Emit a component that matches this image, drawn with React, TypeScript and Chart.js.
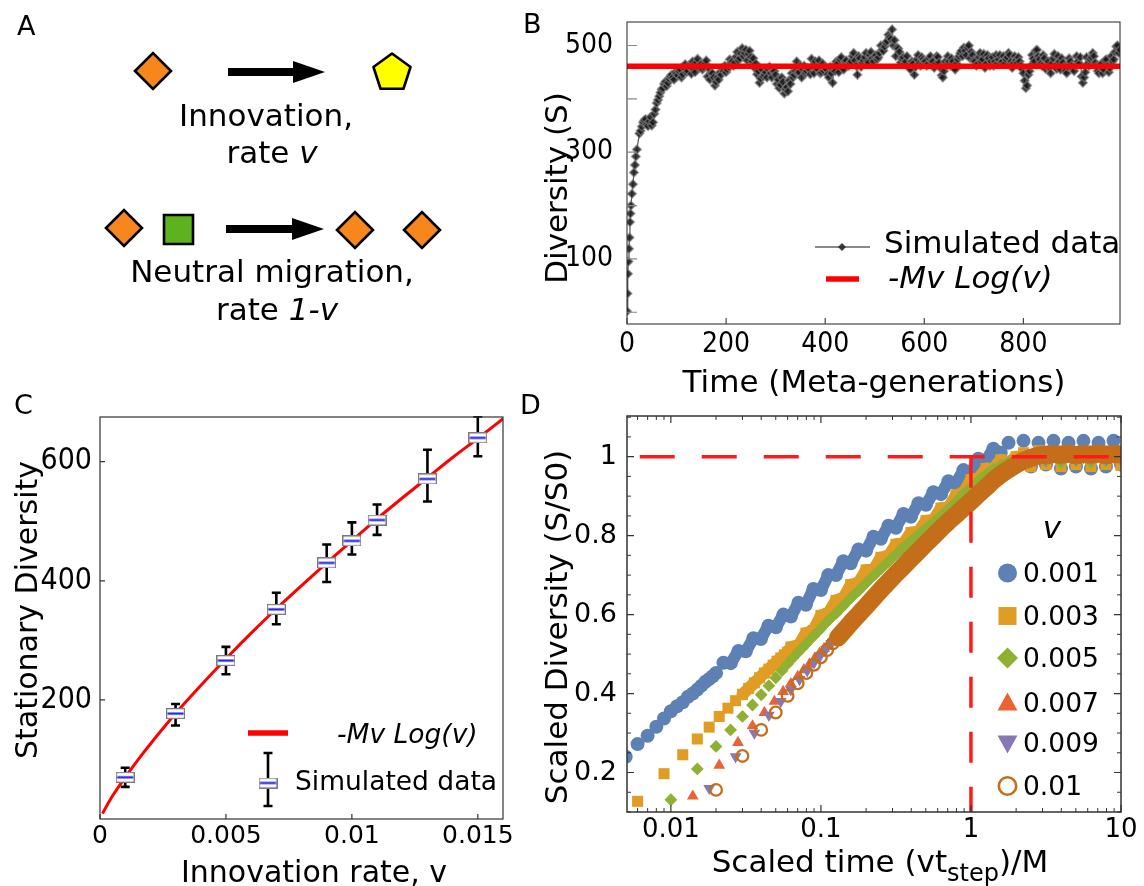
import React, { useEffect, useRef } from 'react';
import { Chart, registerables } from 'chart.js';

Chart.register(...registerables);

const SANS = '"DejaVu Sans", Verdana, sans-serif';
const NARROW = '"Liberation Sans Narrow", "DejaVu Sans Condensed", "Arial Narrow", sans-serif';

// ---------------- Panel A (diagram) ----------------
const aDiamondX = [153, 124, 355, 422];
const aDiamondY = [71, 228, 230, 230];
const aSquareX = [178.5];
const aSquareY = [229.5];
const aPentagonX = [392];
const aPentagonY = [73];
const aArrowFromX = [228, 226];
const aArrowToX = [325, 324];
const aArrowY = [72, 229];

// ---------------- Panel B ----------------
const bEarlyT = [0, 1, 2, 3, 4, 5, 6, 7, 8, 10, 12, 14, 16, 18, 20];
const bEarlyS = [2, 35, 72, 95, 119, 140, 169, 185, 200, 222, 240, 262, 276, 292, 305];
const bSteadyStart = 25;
const bSteadyStep = 5;
const bSteadyS = [
  335, 348, 360, 352, 358, 350, 372, 392, 405, 418, 428, 424, 438, 445, 436, 447,
  452, 440, 458, 450, 462, 447, 455, 468, 458, 466, 460, 472, 458, 448, 440, 432, 436, 445, 452, 450,
  460, 468, 462, 479, 472, 485, 480, 492, 484, 478, 476, 466, 452, 438, 442, 450, 456, 448, 452, 445,
  436, 426, 432, 418, 414, 428, 440, 452, 450, 462, 455, 448, 458, 446, 462, 470, 455, 448, 466, 458,
  446, 460, 430, 452, 466, 474, 458, 470, 462, 468, 480, 472, 445, 476, 468, 478, 470, 482, 476, 480,
  474, 486, 492, 498, 508, 515, 530, 510, 496, 488, 475, 466, 480, 458, 470, 445, 474, 466, 478, 470,
  462, 476, 470, 458, 480, 468, 444, 452, 462, 470, 476, 458, 466, 480, 490, 496, 482, 500, 488, 472,
  462, 478, 470, 484, 466, 476, 470, 462, 482, 474, 468, 480, 474, 486, 470, 466, 472, 478, 462, 448,
  420, 445, 462, 475, 490, 480, 466, 482, 456, 470, 448, 476, 462, 480, 455, 468, 452, 460, 470, 456,
  462, 470, 478, 430, 450, 466, 474, 486, 468, 452, 460, 448, 472, 462, 458, 470, 488, 500, 492,
];
const bMidStart = 27.5;
const bMidS = [
  340, 356, 362, 349, 366, 356, 380, 398, 412, 420, 432, 430, 442, 440, 450,
  444, 455, 446, 465, 452, 460, 470, 450, 475, 462, 455, 466, 442, 436, 448, 425, 440, 450, 458, 462,
  455, 474, 470, 468, 488, 476, 495, 486, 472, 490, 470, 458, 446, 430, 455, 445, 440, 460, 440, 452,
  428, 420, 440, 410, 422, 435, 448, 445, 470, 450, 440, 462, 452, 456, 475, 448, 460, 472, 450, 452,
  455, 440, 448, 462, 470, 450, 478, 455, 472, 462, 470, 486, 462, 480, 460, 472, 486, 468, 488, 470,
  482, 478, 500, 490, 505, 520, 512, 500, 480, 494, 468, 478, 470, 462, 455, 466, 460, 482, 462, 474,
  470, 466, 480, 470, 465, 478, 458, 440, 470, 480, 462, 470, 455, 474, 486, 480, 490, 496, 476, 482,
  470, 466, 486, 474, 458, 482, 462, 478, 470, 466, 482, 470, 466, 478, 482, 458, 480, 468, 470, 456,
  434, 425, 452, 482, 470, 492, 474, 462, 476, 462, 458, 466, 484, 456, 470, 476, 460, 448, 476, 462,
  452, 480, 466, 442, 440, 478, 462, 478, 480, 460, 448, 466, 455, 474, 450, 480, 474, 498, 486,
];
const bFitT = [0, 995];
const bFitS = 461;
const bXLabels = [0, 200, 400, 600, 800];
const bYLabels = [100, 300, 500];
const bYMarks = [0, 100, 200, 300, 400, 500];

// ---------------- Panel C ----------------
const cRates = [0.001, 0.003, 0.005, 0.007, 0.009, 0.010, 0.011, 0.013, 0.015];
const cMean = [70, 177, 266, 352, 430, 467, 502, 571, 640];
const cLow = [54, 157, 243, 327, 398, 444, 477, 533, 609];
const cHigh = [86, 193, 289, 380, 461, 498, 528, 620, 676];
const cCurveV = [0.0001, 0.0002, 0.0005, 0.001, 0.0015, 0.002, 0.003, 0.004, 0.005, 0.006, 0.007, 0.008, 0.009, 0.010, 0.011, 0.012, 0.013, 0.014, 0.015, 0.016];
const cCurveS = [9, 17, 39, 70, 99, 126, 177, 224, 269, 312, 353, 392, 430, 467, 504, 539, 573, 607, 639, 672];
const cXLabels = [0, 0.005, 0.01, 0.015];
const cYLabels = [200, 400, 600];

// ---------------- Panel D ----------------
const dSeriesNames = ['0.001', '0.003', '0.005', '0.007', '0.009', '0.01'];
const dGridX = [0.0224, 0.0251, 0.0282, 0.0316, 0.0355, 0.0398, 0.0447, 0.0501, 0.0562, 0.0631, 0.0708, 0.0794, 0.0891, 0.1, 0.112, 0.126, 0.141, 0.158, 0.178, 0.2, 0.224, 0.251, 0.282, 0.316, 0.355, 0.398, 0.447, 0.501, 0.562, 0.631, 0.708, 0.794, 0.891, 1, 1.12, 1.26, 1.41, 1.58, 1.78, 2, 2.24, 2.51, 2.82, 3.16, 3.55, 3.98, 4.47, 5.01, 5.62, 6.31, 7.08, 7.94, 8.91, 10];

const dBlueEarlyX = [0.005, 0.006, 0.007, 0.008, 0.009, 0.010, 0.011, 0.012, 0.013, 0.014, 0.015, 0.016, 0.017, 0.018, 0.019, 0.020];
const dBlueEarlyY = [0.24, 0.272, 0.293, 0.316, 0.337, 0.355, 0.368, 0.378, 0.392, 0.40, 0.41, 0.42, 0.43, 0.437, 0.444, 0.452];
const dBlueTailFrom = 0;
const dBlueTail = [0.478, 0.477, 0.508, 0.507, 0.54, 0.538, 0.572, 0.568, 0.6, 0.595, 0.63, 0.625, 0.665, 0.662, 0.70, 0.70, 0.735, 0.73, 0.765, 0.762, 0.797, 0.792, 0.825, 0.82, 0.855, 0.848, 0.882, 0.878, 0.91, 0.905, 0.938, 0.932, 0.966, 0.958, 0.995, 0.99, 1.02, 1.01, 1.035, 0.99, 1.04, 0.975, 1.035, 0.98, 1.04, 0.97, 1.035, 0.975, 1.04, 0.97, 1.035, 0.975, 1.04, 0.98];

const dOrangeEarlyX = [0.006, 0.009, 0.012, 0.015, 0.018, 0.021, 0.024, 0.027, 0.030, 0.033, 0.036, 0.039, 0.042, 0.045, 0.048, 0.051, 0.054, 0.057, 0.060];
const dOrangeEarlyY = [0.127, 0.197, 0.245, 0.285, 0.315, 0.342, 0.363, 0.382, 0.398, 0.413, 0.427, 0.44, 0.452, 0.462, 0.472, 0.482, 0.49, 0.498, 0.505];
const dOrangeTailFrom = 9;
const dOrangeTail = [0.518, 0.521, 0.553, 0.56, 0.598, 0.603, 0.636, 0.641, 0.676, 0.68, 0.713, 0.713, 0.745, 0.748, 0.778, 0.78, 0.808, 0.809, 0.838, 0.839, 0.87, 0.871, 0.903, 0.908, 0.942, 0.944, 0.97, 0.969, 0.992, 0.985, 1.0, 1.01, 0.975, 1.015, 0.98, 1.01, 0.975, 1.015, 0.98, 1.01, 0.975, 1.015, 0.98, 1.01, 0.978];

const dGreenEarlyX = [0.010, 0.015, 0.020, 0.025, 0.030, 0.035, 0.040, 0.045, 0.050, 0.055, 0.060, 0.065, 0.070, 0.075, 0.080, 0.085, 0.090, 0.095, 0.100];
const dGreenEarlyY = [0.131, 0.209, 0.266, 0.308, 0.342, 0.371, 0.397, 0.42, 0.44, 0.458, 0.475, 0.49, 0.503, 0.515, 0.526, 0.537, 0.547, 0.556, 0.565];
const dGreenTailFrom = 14;
const dGreenTail = [0.585, 0.603, 0.622, 0.642, 0.66, 0.68, 0.698, 0.716, 0.734, 0.752, 0.77, 0.787, 0.803, 0.818, 0.834, 0.85, 0.867, 0.885, 0.905, 0.922, 0.94, 0.955, 0.968, 0.978, 0.986, 0.99, 0.993, 0.985, 1.0, 0.988, 0.998, 0.985, 1.0, 0.99, 0.997, 0.985, 1.0, 0.988, 0.998, 0.99];

const dRedEarlyX = [0.014, 0.021, 0.028, 0.035, 0.042, 0.049, 0.056, 0.063, 0.070, 0.077, 0.084, 0.091, 0.098, 0.105, 0.112, 0.119, 0.126, 0.133, 0.140];
const dRedEarlyY = [0.14, 0.218, 0.276, 0.318, 0.352, 0.38, 0.405, 0.425, 0.443, 0.46, 0.475, 0.489, 0.502, 0.514, 0.525, 0.535, 0.545, 0.554, 0.563];
const dRedTailFrom = 17;
const dRedTail = [0.583, 0.605, 0.627, 0.648, 0.668, 0.688, 0.707, 0.727, 0.747, 0.766, 0.785, 0.803, 0.822, 0.84, 0.858, 0.875, 0.89, 0.91, 0.928, 0.945, 0.96, 0.972, 0.98, 0.988, 0.993, 0.998, 0.99, 1.0, 0.992, 1.0, 0.99, 1.002, 0.992, 1.0, 0.99, 1.0, 0.993];

const dPurpleEarlyX = [0.018, 0.027, 0.036, 0.045, 0.054, 0.063, 0.072, 0.081, 0.090, 0.099, 0.108, 0.117, 0.126, 0.135, 0.144, 0.153, 0.162, 0.171, 0.180];
const dPurpleEarlyY = [0.16, 0.24, 0.30, 0.345, 0.38, 0.41, 0.436, 0.458, 0.478, 0.496, 0.512, 0.527, 0.54, 0.552, 0.563, 0.574, 0.584, 0.593, 0.602];
const dPurpleTailFrom = 19;
const dPurpleTail = [0.625, 0.647, 0.667, 0.687, 0.706, 0.725, 0.745, 0.764, 0.783, 0.802, 0.82, 0.838, 0.856, 0.874, 0.892, 0.912, 0.93, 0.947, 0.962, 0.974, 0.983, 0.99, 0.995, 1.0, 0.993, 1.003, 0.995, 1.002, 0.993, 1.0, 0.995, 1.003, 0.994, 1.0, 0.996];

const dBrownEarlyX = [0.02, 0.03, 0.04, 0.05, 0.06, 0.07, 0.08, 0.09, 0.10, 0.11, 0.12, 0.13, 0.14, 0.15, 0.16, 0.17, 0.18, 0.19, 0.20];
const dBrownEarlyY = [0.156, 0.242, 0.308, 0.352, 0.394, 0.426, 0.452, 0.473, 0.492, 0.51, 0.527, 0.542, 0.556, 0.569, 0.581, 0.592, 0.602, 0.612, 0.621];
const dBrownTailFrom = 20;
const dBrownTail = [0.642, 0.663, 0.683, 0.703, 0.722, 0.742, 0.761, 0.78, 0.799, 0.818, 0.836, 0.853, 0.87, 0.887, 0.905, 0.922, 0.94, 0.955, 0.968, 0.98, 0.99, 0.997, 1.003, 1.005, 1.007, 1.005, 1.008, 1.004, 1.007, 1.005, 1.008, 1.005, 1.007, 1.006];

const dRefLevel = 1;
const dRefHX = [0.0062, 10];
const dRefVX = 1;
const dRefVY = [1, 0.1];
const dXLabels = [0.01, 0.1, 1, 10];
const dYLabels = [0.2, 0.4, 0.6, 0.8, 1];
const dXMinor = [0.006, 0.007, 0.008, 0.009, 0.02, 0.03, 0.04, 0.05, 0.06, 0.07, 0.08, 0.09, 0.2, 0.3, 0.4, 0.5, 0.6, 0.7, 0.8, 0.9, 2, 3, 4, 5, 6, 7, 8, 9];
const dYMinor = [0.1, 0.15, 0.25, 0.3, 0.35, 0.45, 0.5, 0.55, 0.65, 0.7, 0.75, 0.85, 0.9, 0.95, 1.05, 1.1];

const COLORS = {
  blue: '#5e81b5',
  orange: '#e19c24',
  green: '#8fb032',
  red: '#eb6235',
  purple: '#8778b3',
  brown: '#c56e1a',
};

// ---------------- helpers ----------------
type Seg = { t: string; it?: boolean; sub?: boolean };

function drawRich(ctx: CanvasRenderingContext2D, segs: Seg[], x: number, y: number, size: number, align = 'left', rot = 0, color = '#000') {
  ctx.save();
  ctx.translate(x, y);
  if (rot) ctx.rotate(rot);
  ctx.fillStyle = color;
  ctx.textBaseline = 'alphabetic';
  ctx.textAlign = 'left';
  const fonts = segs.map((s) => `${s.it ? 'italic ' : ''}${s.sub ? Math.round(size * 0.78) : size}px ${SANS}`);
  const widths = segs.map((s, i) => {
    ctx.font = fonts[i];
    return ctx.measureText(s.t).width;
  });
  const total = widths.reduce((a, b) => a + b, 0);
  let cx = align === 'center' ? -total / 2 : align === 'right' ? -total : 0;
  segs.forEach((s, i) => {
    ctx.font = fonts[i];
    ctx.fillText(s.t, cx, s.sub ? size * 0.28 : 0);
    cx += widths[i];
  });
  ctx.restore();
}

function innerTicks(chart: any, axis: string, values: number[], len: number, sides: string[], color: string, lw: number) {
  const ctx = chart.ctx;
  const a = chart.chartArea;
  const s = chart.scales[axis];
  ctx.save();
  ctx.strokeStyle = color;
  ctx.lineWidth = lw;
  ctx.beginPath();
  values.forEach((v) => {
    const p = s.getPixelForValue(v);
    if (axis === 'x') {
      if (p < a.left - 0.5 || p > a.right + 0.5) return;
      if (sides.includes('bottom')) { ctx.moveTo(p, a.bottom); ctx.lineTo(p, a.bottom - len); }
      if (sides.includes('top')) { ctx.moveTo(p, a.top); ctx.lineTo(p, a.top + len); }
    } else {
      if (p < a.top - 0.5 || p > a.bottom + 0.5) return;
      if (sides.includes('left')) { ctx.moveTo(a.left, p); ctx.lineTo(a.left + len, p); }
      if (sides.includes('right')) { ctx.moveTo(a.right, p); ctx.lineTo(a.right - len, p); }
    }
  });
  ctx.stroke();
  ctx.restore();
}

function frame(chart: any, color: string, lw: number) {
  const ctx = chart.ctx;
  const a = chart.chartArea;
  ctx.save();
  ctx.strokeStyle = color;
  ctx.lineWidth = lw;
  ctx.strokeRect(a.left, a.top, a.right - a.left, a.bottom - a.top);
  ctx.restore();
}

function marker(ctx: CanvasRenderingContext2D, kind: string, x: number, y: number, r: number, color: string) {
  ctx.save();
  ctx.fillStyle = color;
  ctx.strokeStyle = color;
  ctx.beginPath();
  if (kind === 'circle') {
    ctx.arc(x, y, r, 0, Math.PI * 2);
    ctx.fill();
  } else if (kind === 'square') {
    ctx.rect(x - r, y - r, 2 * r, 2 * r);
    ctx.fill();
  } else if (kind === 'diamond') {
    ctx.moveTo(x, y - r); ctx.lineTo(x + r, y); ctx.lineTo(x, y + r); ctx.lineTo(x - r, y); ctx.closePath();
    ctx.fill();
  } else if (kind === 'tri') {
    ctx.moveTo(x, y - r); ctx.lineTo(x + r * 0.95, y + r * 0.72); ctx.lineTo(x - r * 0.95, y + r * 0.72); ctx.closePath();
    ctx.fill();
  } else if (kind === 'tridown') {
    ctx.moveTo(x, y + r); ctx.lineTo(x + r * 0.95, y - r * 0.72); ctx.lineTo(x - r * 0.95, y - r * 0.72); ctx.closePath();
    ctx.fill();
  } else if (kind === 'ring') {
    ctx.lineWidth = 2.6;
    ctx.arc(x, y, r - 1.3, 0, Math.PI * 2);
    ctx.stroke();
  }
  ctx.restore();
}

const hiddenPlugins = { legend: { display: false }, tooltip: { enabled: false } };

// fix the size of an axis box and drop Chart.js' extra label padding
const fixWidth = (w: number) => (s: any) => {
  s.width = w;
  s.paddingTop = 0; s.paddingBottom = 0; s.paddingLeft = 0; s.paddingRight = 0;
};
const fixHeight = (h: number) => (s: any) => {
  s.height = h;
  s.paddingTop = 0; s.paddingBottom = 0; s.paddingLeft = 0; s.paddingRight = 0;
};

// ---------------- charts ----------------
function makeA(canvas: HTMLCanvasElement) {
  const pent = document.createElement('canvas');
  pent.width = 46;
  pent.height = 46;
  const p = pent.getContext('2d')!;
  p.beginPath();
  for (let k = 0; k < 5; k++) {
    const ang = -Math.PI / 2 + (k * 2 * Math.PI) / 5;
    const px = 23 + 19.5 * Math.cos(ang);
    const py = 23 + 19.5 * Math.sin(ang);
    if (k === 0) p.moveTo(px, py); else p.lineTo(px, py);
  }
  p.closePath();
  p.fillStyle = '#ffff00';
  p.fill();
  p.lineWidth = 2.6;
  p.lineJoin = 'round';
  p.strokeStyle = '#000';
  p.stroke();

  const decor = {
    id: 'aDecor',
    afterDatasetsDraw(chart: any) {
      const ctx = chart.ctx;
      const xs = chart.scales.x;
      const ys = chart.scales.y;
      ctx.save();
      ctx.fillStyle = '#000';
      for (let i = 0; i < aArrowY.length; i++) {
        const x0 = xs.getPixelForValue(aArrowFromX[i]);
        const x1 = xs.getPixelForValue(aArrowToX[i]);
        const y = ys.getPixelForValue(aArrowY[i]);
        const head = 32, half = 11, shaft = 4;
        ctx.beginPath();
        ctx.moveTo(x0, y - shaft);
        ctx.lineTo(x1 - head, y - shaft);
        ctx.lineTo(x1 - head, y - half);
        ctx.lineTo(x1, y);
        ctx.lineTo(x1 - head, y + half);
        ctx.lineTo(x1 - head, y + shaft);
        ctx.lineTo(x0, y + shaft);
        ctx.closePath();
        ctx.fill();
      }
      ctx.restore();
      drawRich(ctx, [{ t: 'Innovation,' }], 266, 126, 31, 'center');
      drawRich(ctx, [{ t: 'rate ' }, { t: 'v', it: true }], 272, 163, 31, 'center');
      drawRich(ctx, [{ t: 'Neutral migration,' }], 272, 282, 31, 'center');
      drawRich(ctx, [{ t: 'rate ' }, { t: '1-v', it: true }], 277, 320, 31, 'center');
    },
  };

  return new Chart(canvas, {
    type: 'scatter',
    data: {
      datasets: [
        {
          data: aDiamondX.map((x, i) => ({ x, y: aDiamondY[i] })),
          pointStyle: 'rectRot', pointRadius: 18, pointBackgroundColor: '#f7861c',
          pointBorderColor: '#000', pointBorderWidth: 2.6,
        },
        {
          data: aSquareX.map((x, i) => ({ x, y: aSquareY[i] })),
          pointStyle: 'rect', pointRadius: 20.5, pointBackgroundColor: '#5db31f',
          pointBorderColor: '#000', pointBorderWidth: 2.6,
        },
        {
          data: aPentagonX.map((x, i) => ({ x, y: aPentagonY[i] })),
          pointStyle: pent as any, pointRadius: 20,
        },
      ],
    },
    options: {
      responsive: false, animation: false, events: [],
      layout: { padding: 0, autoPadding: false },
      plugins: hiddenPlugins as any,
      scales: {
        x: { display: false, min: 0, max: 520 },
        y: { display: false, min: 0, max: 400, reverse: true },
      },
    },
    plugins: [decor],
  } as any);
}

function makeB(canvas: HTMLCanvasElement) {
  const pts = [
    ...bEarlyT.map((t, i) => ({ x: t, y: bEarlyS[i] })),
    ...bSteadyS.map((s, i) => ({ x: bSteadyStart + i * bSteadyStep, y: s })),
    ...bMidS.map((s, i) => ({ x: bMidStart + i * bSteadyStep, y: s })),
  ].sort((p, q) => p.x - q.x);
  const decor = {
    id: 'bDecor',
    afterDatasetsDraw(chart: any) {
      const ctx = chart.ctx;
      frame(chart, '#222', 1);
      innerTicks(chart, 'y', bYMarks, 10, ['left'], '#888', 1.2);
      innerTicks(chart, 'x', bXLabels, 6, ['bottom'], '#444', 1.2);
      // legend
      ctx.save();
      ctx.strokeStyle = 'rgba(80,80,80,0.9)';
      ctx.lineWidth = 1.5;
      ctx.beginPath(); ctx.moveTo(295, 247); ctx.lineTo(350, 247); ctx.stroke();
      marker(ctx, 'diamond', 322, 247, 4, 'rgba(40,40,40,0.9)');
      ctx.strokeStyle = '#ff0000';
      ctx.lineWidth = 5.5;
      ctx.beginPath(); ctx.moveTo(306, 279); ctx.lineTo(339, 279); ctx.stroke();
      ctx.restore();
      drawRich(ctx, [{ t: 'Simulated data' }], 364, 253, 31);
      drawRich(ctx, [{ t: '-Mv Log(v)', it: true }], 368, 288, 31);
      // titles
      drawRich(ctx, [{ t: 'Time (Meta-generations)' }], 354, 392, 31, 'center');
      drawRich(ctx, [{ t: 'Diversity (S)' }], 47, 188, 31, 'center', -Math.PI / 2);
    },
  };
  return new Chart(canvas, {
    type: 'scatter',
    data: {
      datasets: [
        {
          data: bFitT.map((t) => ({ x: t, y: bFitS })),
          showLine: true, borderColor: '#ff0000', borderWidth: 5.5, pointRadius: 0, order: 0,
        },
        {
          data: pts, showLine: true, borderColor: 'rgba(60,60,60,0.9)', borderWidth: 1.2,
          pointStyle: 'rectRot', pointRadius: 4.4, pointBackgroundColor: 'rgba(25,25,25,0.85)',
          pointBorderColor: 'rgba(130,130,130,0.6)', pointBorderWidth: 1.5, order: 1,
        },
      ],
    },
    options: {
      responsive: false, animation: false, events: [],
      layout: { padding: { left: 0, right: 24, top: 22, bottom: 0 }, autoPadding: false },
      plugins: hiddenPlugins as any,
      scales: {
        x: {
          type: 'linear', min: 0, max: 995,
          afterBuildTicks: (s: any) => { s.ticks = bXLabels.map((v) => ({ value: v })); },
          afterFit: fixHeight(76),
          grid: { display: false, drawTicks: false }, border: { display: false },
          ticks: { autoSkip: false, maxRotation: 0, padding: 4, color: '#000', font: { family: NARROW, size: 28 }, callback: (v: any) => String(v) },
        },
        y: {
          type: 'linear', min: -22, max: 544,
          afterBuildTicks: (s: any) => { s.ticks = bYLabels.map((v) => ({ value: v })); },
          afterFit: fixWidth(107),
          grid: { display: false, drawTicks: false }, border: { display: false },
          ticks: { autoSkip: false, padding: 14, color: '#000', font: { family: NARROW, size: 28 }, callback: (v: any) => String(v) },
        },
      },
    },
    plugins: [decor],
  } as any);
}

function makeBoxImage() {
  const c = document.createElement('canvas');
  c.width = 19;
  c.height = 11;
  const g = c.getContext('2d')!;
  g.fillStyle = '#fff';
  g.fillRect(0, 0, 19, 11);
  g.strokeStyle = '#7a7a7a';
  g.lineWidth = 1.2;
  g.strokeRect(0.6, 0.6, 17.8, 9.8);
  g.strokeStyle = '#1f1fe6';
  g.lineWidth = 2.2;
  g.beginPath(); g.moveTo(1.5, 5.5); g.lineTo(17.5, 5.5); g.stroke();
  return c;
}

function makeC(canvas: HTMLCanvasElement) {
  const box = makeBoxImage();
  const whisker = (ctx: any, x: number, y0: number, y1: number) => {
    ctx.beginPath();
    ctx.moveTo(x, y0); ctx.lineTo(x, y1);
    ctx.moveTo(x - 4.5, y0); ctx.lineTo(x + 4.5, y0);
    ctx.moveTo(x - 4.5, y1); ctx.lineTo(x + 4.5, y1);
    ctx.stroke();
  };
  const decor = {
    id: 'cDecor',
    beforeDatasetsDraw(chart: any) {
      const ctx = chart.ctx;
      const a = chart.chartArea;
      const xs = chart.scales.x;
      const ys = chart.scales.y;
      ctx.save();
      ctx.beginPath();
      ctx.rect(a.left, a.top - 1, a.right - a.left, a.bottom - a.top + 2);
      ctx.clip();
      ctx.strokeStyle = '#000';
      ctx.lineWidth = 2.6;
      cRates.forEach((v, i) => {
        whisker(ctx, xs.getPixelForValue(v), ys.getPixelForValue(cHigh[i]), ys.getPixelForValue(cLow[i]));
      });
      ctx.restore();
    },
    afterDatasetsDraw(chart: any) {
      const ctx = chart.ctx;
      frame(chart, '#333', 1.2);
      innerTicks(chart, 'y', cYLabels, 5, ['left'], '#333', 1.2);
      innerTicks(chart, 'x', cXLabels, 5, ['bottom'], '#333', 1.2);
      ctx.save();
      ctx.strokeStyle = '#ff0000';
      ctx.lineWidth = 5.5;
      ctx.beginPath(); ctx.moveTo(248, 333); ctx.lineTo(288, 333); ctx.stroke();
      ctx.strokeStyle = '#000';
      ctx.lineWidth = 2.6;
      whisker(ctx, 268, 353, 406);
      ctx.drawImage(box, 268 - 9.5, 383 - 5.5);
      ctx.restore();
      drawRich(ctx, [{ t: '-Mv Log(v)', it: true }], 337, 343, 26.5);
      drawRich(ctx, [{ t: 'Simulated data' }], 295, 390, 26.5);
      drawRich(ctx, [{ t: 'Innovation rate, v' }], 314, 482, 30, 'center');
      drawRich(ctx, [{ t: 'Stationary Diversity' }], 37, 210, 30, 'center', -Math.PI / 2);
    },
  };
  return new Chart(canvas, {
    type: 'scatter',
    data: {
      datasets: [
        {
          data: cCurveV.map((v, i) => ({ x: v, y: cCurveS[i] })),
          showLine: true, borderColor: '#ff0000', borderWidth: 3, pointRadius: 0,
          cubicInterpolationMode: 'monotone', order: 1,
        },
        {
          data: cRates.map((v, i) => ({ x: v, y: cMean[i] })),
          pointStyle: box as any, pointRadius: 9, order: 0,
        },
      ],
    },
    options: {
      responsive: false, animation: false, events: [],
      layout: { padding: { left: 0, right: 17, top: 17, bottom: 0 }, autoPadding: false },
      plugins: hiddenPlugins as any,
      scales: {
        x: {
          type: 'linear', min: 0, max: 0.016,
          afterBuildTicks: (s: any) => { s.ticks = cXLabels.map((v) => ({ value: v })); },
          afterFit: fixHeight(67),
          grid: { display: false, drawTicks: false }, border: { display: false },
          ticks: { autoSkip: false, maxRotation: 0, padding: 2, color: '#000', font: { family: SANS, size: 25 }, callback: (v: any) => String(v) },
        },
        y: {
          type: 'linear', min: 0, max: 675,
          afterBuildTicks: (s: any) => { s.ticks = cYLabels.map((v) => ({ value: v })); },
          afterFit: fixWidth(100),
          grid: { display: false, drawTicks: false }, border: { display: false },
          ticks: { autoSkip: false, padding: 8, color: '#000', font: { family: NARROW, size: 30 }, callback: (v: any) => String(v) },
        },
      },
    },
    plugins: [decor],
  } as any);
}

function dPoints(ex: number[], ey: number[], from: number, tail: number[]) {
  const pts = ex.map((x, i) => ({ x, y: ey[i] }));
  tail.forEach((y, i) => pts.push({ x: dGridX[from + i], y }));
  return pts;
}

function makeD(canvas: HTMLCanvasElement) {
  const band = (color: string, start: number, end: number) => (ctx: any) =>
    ctx.p0.parsed.x >= start && ctx.p1.parsed.x <= end ? color : 'rgba(0,0,0,0)';
  const series = [
    { name: dSeriesNames[0], pts: dPoints(dBlueEarlyX, dBlueEarlyY, dBlueTailFrom, dBlueTail), color: COLORS.blue, style: 'circle', r: 7, rot: 0, fill: true, bw: 12, bs: 0.021, be: 1.6, legend: 'circle', order: 6 },
    { name: dSeriesNames[1], pts: dPoints(dOrangeEarlyX, dOrangeEarlyY, dOrangeTailFrom, dOrangeTail), color: COLORS.orange, style: 'rect', r: 7.8, rot: 0, fill: true, bw: 12, bs: 0.03, be: 2.1, legend: 'square', order: 5 },
    { name: dSeriesNames[2], pts: dPoints(dGreenEarlyX, dGreenEarlyY, dGreenTailFrom, dGreenTail), color: COLORS.green, style: 'rectRot', r: 6.4, rot: 0, fill: true, bw: 9, bs: 0.1, be: 2.1, legend: 'diamond', order: 4 },
    { name: dSeriesNames[3], pts: dPoints(dRedEarlyX, dRedEarlyY, dRedTailFrom, dRedTail), color: COLORS.red, style: 'triangle', r: 6.8, rot: 0, fill: true, bw: 12, bs: 0.15, be: 2.1, legend: 'tri', order: 3 },
    { name: dSeriesNames[4], pts: dPoints(dPurpleEarlyX, dPurpleEarlyY, dPurpleTailFrom, dPurpleTail), color: COLORS.purple, style: 'triangle', r: 6.8, rot: 180, fill: true, bw: 12, bs: 0.2, be: 2.1, legend: 'tridown', order: 2 },
    { name: dSeriesNames[5], pts: dPoints(dBrownEarlyX, dBrownEarlyY, dBrownTailFrom, dBrownTail), color: COLORS.brown, style: 'circle', r: 5.8, rot: 0, fill: false, bw: 18, bs: 0.13, be: 11, legend: 'ring', order: 1 },
  ];
  const datasets: any[] = series.map((s) => ({
    label: s.name,
    data: s.pts,
    showLine: true,
    borderColor: 'rgba(0,0,0,0)',
    borderWidth: s.bw,
    borderCapStyle: 'round',
    borderJoinStyle: 'round',
    segment: { borderColor: band(s.color, s.bs, s.be) },
    pointStyle: s.style,
    pointRadius: s.r,
    pointRotation: s.rot,
    pointBackgroundColor: s.fill ? s.color : 'rgba(0,0,0,0)',
    pointBorderColor: s.color,
    pointBorderWidth: s.fill ? 0 : 2.3,
    order: s.order,
  }));
  datasets.push({
    data: dRefHX.map((x) => ({ x, y: dRefLevel })),
    showLine: true, borderColor: '#ff1a1a', borderWidth: 3.5, borderDash: [35, 27], pointRadius: 0, order: -1,
  });
  datasets.push({
    data: dRefVY.map((y) => ({ x: dRefVX, y })),
    showLine: true, borderColor: '#ff1a1a', borderWidth: 3.5, borderDash: [31, 24], pointRadius: 0, order: -1,
  });

  const decor = {
    id: 'dDecor',
    afterDatasetsDraw(chart: any) {
      const ctx = chart.ctx;
      frame(chart, '#333', 1.5);
      innerTicks(chart, 'y', dYLabels, 7, ['left', 'right'], '#333', 1.2);
      innerTicks(chart, 'y', dYMinor, 4, ['left', 'right'], '#333', 1);
      innerTicks(chart, 'x', dXLabels, 7, ['bottom', 'top'], '#333', 1.2);
      innerTicks(chart, 'x', dXMinor, 4, ['bottom', 'top'], '#333', 1);
      drawRich(ctx, [{ t: 'v', it: true }], 532, 138, 31, 'center');
      const ys = [173, 216, 258, 303, 343, 386];
      const sizes = [9.5, 9, 10.5, 10.5, 10.5, 10];
      series.forEach((s, i) => {
        marker(ctx, s.legend, 487.5, ys[i], sizes[i], s.color);
        drawRich(ctx, [{ t: s.name }], 503, ys[i] + 9, 26.5);
      });
      drawRich(ctx, [{ t: 'Scaled time (vt' }, { t: 'step', sub: true }, { t: ')/M' }], 360, 472, 31, 'center');
      drawRich(ctx, [{ t: 'Scaled Diversity (S/S0)' }], 47, 227, 31, 'center', -Math.PI / 2);
    },
  };

  return new Chart(canvas, {
    type: 'scatter',
    data: { datasets },
    options: {
      responsive: false, animation: false, events: [],
      layout: { padding: { left: 0, right: 23, top: 16, bottom: 0 }, autoPadding: false },
      plugins: hiddenPlugins as any,
      scales: {
        x: {
          type: 'logarithmic', min: 0.0051, max: 10,
          afterBuildTicks: (s: any) => { s.ticks = dXLabels.map((v) => ({ value: v })); },
          afterFit: fixHeight(74),
          grid: { display: false, drawTicks: false }, border: { display: false },
          ticks: { autoSkip: false, maxRotation: 0, padding: 3, color: '#000', font: { family: SANS, size: 26 }, callback: (v: any) => String(v) },
        },
        y: {
          type: 'linear', min: 0.1, max: 1.103,
          afterBuildTicks: (s: any) => { s.ticks = dYLabels.map((v) => ({ value: v })); },
          afterFit: fixWidth(107),
          grid: { display: false, drawTicks: false }, border: { display: false },
          ticks: { autoSkip: false, padding: 10, color: '#000', font: { family: SANS, size: 27 }, callback: (v: any) => String(v) },
        },
      },
    },
    plugins: [decor],
  } as any);
}

const letterStyle = (left: number, top: number): React.CSSProperties => ({
  position: 'absolute', left, top, font: `27px ${SANS}`, lineHeight: '27px', color: '#000', margin: 0,
});

export default function App() {
  const refA = useRef<HTMLCanvasElement>(null);
  const refB = useRef<HTMLCanvasElement>(null);
  const refC = useRef<HTMLCanvasElement>(null);
  const refD = useRef<HTMLCanvasElement>(null);

  useEffect(() => {
    const charts = [
      makeA(refA.current!),
      makeB(refB.current!),
      makeC(refC.current!),
      makeD(refD.current!),
    ];
    return () => charts.forEach((c) => c.destroy());
  }, []);

  return (
    <div style={{ position: 'absolute', left: 0, top: 0, width: 1144, height: 886, background: '#fff', overflow: 'hidden' }}>
      <canvas ref={refA} width={520} height={400} style={{ position: 'absolute', left: 0, top: 0, width: 520, height: 400 }} />
      <canvas ref={refB} width={624} height={400} style={{ position: 'absolute', left: 520, top: 0, width: 624, height: 400 }} />
      <canvas ref={refC} width={520} height={486} style={{ position: 'absolute', left: 0, top: 400, width: 520, height: 486 }} />
      <canvas ref={refD} width={624} height={486} style={{ position: 'absolute', left: 520, top: 400, width: 624, height: 486 }} />
      <div style={letterStyle(17, 12)}>A</div>
      <div style={letterStyle(523, 10)}>B</div>
      <div style={letterStyle(14, 391)}>C</div>
      <div style={letterStyle(520, 391)}>D</div>
    </div>
  );
}
